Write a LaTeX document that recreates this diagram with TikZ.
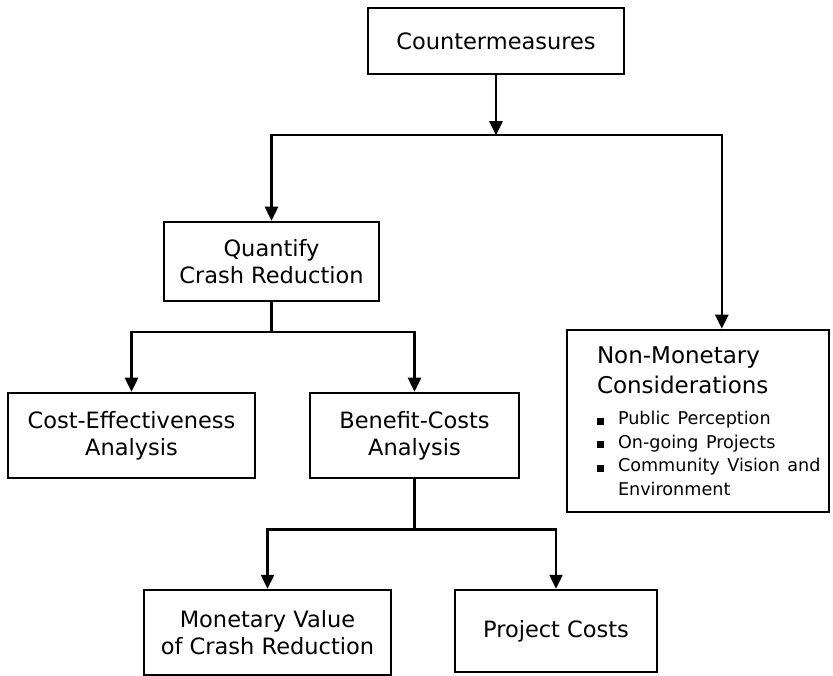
\documentclass[tikz,border=0pt]{standalone}
\usepackage{fontspec}
\setmainfont{DejaVu Sans}
\usetikzlibrary{arrows.meta,positioning,calc}

\newcommand{\bulletbox}{\makebox[21pt][l]{\rule{7pt}{7pt}}}

\begin{document}
\begin{tikzpicture}[
    x=1pt, y=-1pt,
    block/.style={rectangle,draw,line width=2.5pt,inner sep=0pt,align=center,font=\fontsize{22.5}{27}\selectfont},
    link/.style={draw,line width=2.5pt},
    arrow/.style={draw,line width=2.5pt,-{Triangle[width=13pt,length=14pt]}}
]
    \useasboundingbox (0,0) rectangle (833,676);

    \node[block,minimum width=256pt,minimum height=66pt] (counter) at (496,41) {Countermeasures};

    \node[block,minimum width=215pt,minimum height=79pt] (quant) at (271.5,261.5) {Quantify\\Crash Reduction};

    \node[block,minimum width=262pt,minimum height=182pt,text width=258pt,align=left] (nonmon) at (698,421) {\leftskip=28pt
        {\fontsize{23}{30}\selectfont Non-Monetary\\Considerations\par}
        \vspace{8pt}
        {\fontsize{17.6}{23.5}\selectfont
        \bulletbox Public Perception\\
        \bulletbox On-going Projects\\
        \bulletbox Community Vision\ and\\
        \hspace*{21pt}Environment\par}};

    \node[block,minimum width=247pt,minimum height=85pt] (cost) at (131.5,435.5) {Cost-Effectiveness\\Analysis};

    \node[block,minimum width=209pt,minimum height=85pt] (benefit) at (414.5,435.5) {Benefit-Costs\\Analysis};

    \node[block,minimum width=247pt,minimum height=85pt] (monetary) at (267.5,632.5) {Monetary Value\\of Crash Reduction};

    \node[block,minimum width=202pt,minimum height=82pt] (project) at (556,631) {Project Costs};

    % branch points
    \coordinate (split1) at ($(counter.south)+(0,60)$);
    \coordinate (split2) at ($(quant.south)+(0,30)$);
    \coordinate (split3) at ($(benefit.south)+(0,50)$);

    \draw[arrow] (counter) -- (split1);
    \draw[arrow] (split1) -| (quant);
    \draw[arrow] (split1) -| ($(nonmon.north west)!0.59!(nonmon.north east)$);

    \draw[link] (quant) -- (split2);
    \draw[arrow] (split2) -| (cost);
    \draw[arrow] (split2) -| (benefit);

    \draw[link] (benefit) -- (split3);
    \draw[arrow] (split3) -| (monetary);
    \draw[arrow] (split3) -| (project);
\end{tikzpicture}
\end{document}
